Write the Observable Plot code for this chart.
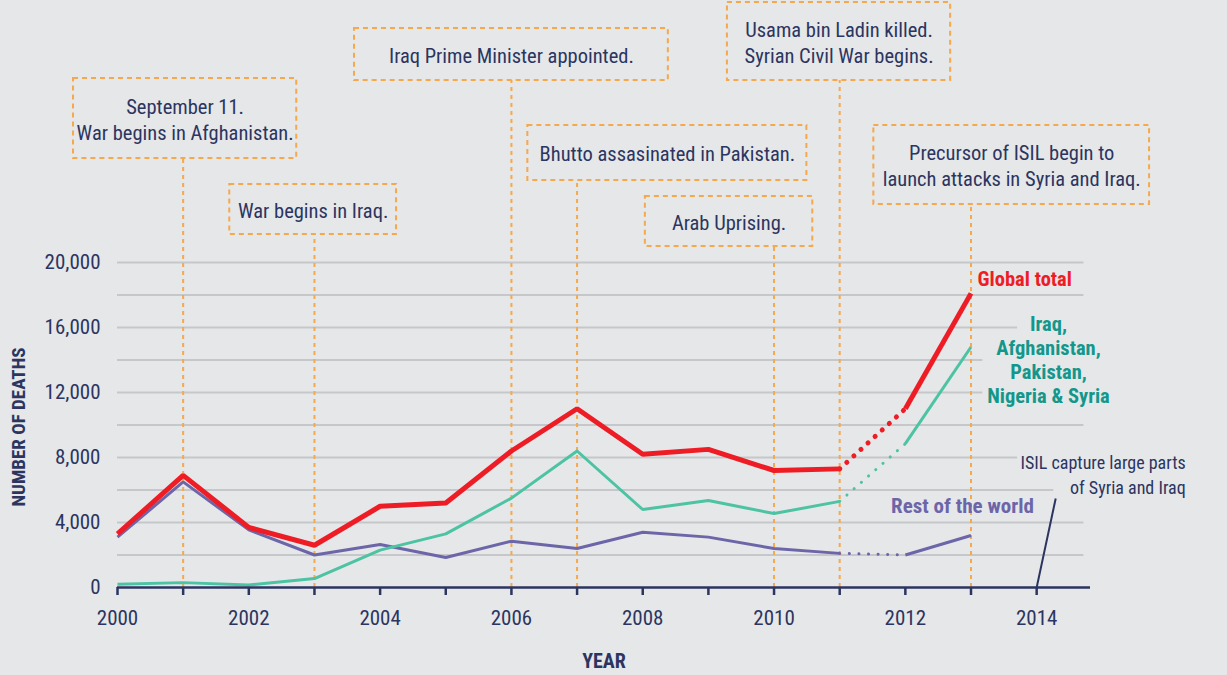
<!DOCTYPE html>
<html>
<head>
<meta charset="utf-8">
<script src="https://cdn.jsdelivr.net/npm/d3@7"></script>
<script src="https://cdn.jsdelivr.net/npm/@observablehq/plot@0.6"></script>
<style>
  html, body { margin: 0; padding: 0; background: #e6e7e9; }
  #chart svg { display: block; }
</style>
</head>
<body>
<div id="chart"></div>
<script>
// ---------- data ----------
const years = [2000, 2001, 2002, 2003, 2004, 2005, 2006, 2007, 2008, 2009, 2010, 2011, 2012, 2013];
const globalTotal = [3300, 6900, 3700, 2600, 5000, 5200, 8400, 11000, 8200, 8500, 7200, 7300, 11000, 18100];
const fiveCountries = [200, 300, 150, 550, 2300, 3300, 5500, 8400, 4800, 5350, 4550, 5300, 8850, 14800];
const restOfWorld = [3100, 6500, 3550, 2000, 2650, 1850, 2850, 2400, 3400, 3100, 2400, 2100, 2000, 3200];
const seriesNames = ["Global total", "Iraq, Afghanistan, Pakistan, Nigeria & Syria", "Rest of the world"];
const tickYears = [2000, 2001, 2002, 2003, 2004, 2005, 2006, 2007, 2008, 2009, 2010, 2011, 2012, 2013, 2014];
const yTicks = [0, 4000, 8000, 12000, 16000, 20000];
const gridValues = [2000, 4000, 6000, 8000, 10000, 12000, 14000, 16000, 18000, 20000];
const eventYears = [2001, 2003, 2006, 2007, 2010, 2011, 2013];
const eventTexts = [
  "September 11.\nWar begins in Afghanistan.",
  "War begins in Iraq.",
  "Iraq Prime Minister appointed.",
  "Bhutto assasinated in Pakistan.",
  "Arab Uprising.",
  "Usama bin Ladin killed.\nSyrian Civil War begins.",
  "Precursor of ISIL begin to\nlaunch attacks in Syria and Iraq."
];
const isilYear = 2014;
const isilText = "ISIL capture large parts\nof Syria and Iraq";

// ---------- styles ----------
const BG = "#e6e7e9";
const NAVY = "#2b3560";
const RED = "#ee1d25";
const TEAL = "#4cc3a2";
const TEAL_TEXT = "#13978b";
const PURPLE = "#6c66a9";
const ORANGE = "#f5a84c";
const GRID = "#c6c7ca";
const FONT = "'Liberation Sans Narrow','Roboto Condensed','DejaVu Sans Condensed','Liberation Sans',sans-serif";

// ---------- build tables ----------
const seriesValues = [globalTotal, fiveCountries, restOfWorld];
const rows = [];
seriesNames.forEach((name, s) => {
  years.forEach((year, i) => {
    const v = seriesValues[s][i];
    if (year <= 2011) rows.push({series: name, seg: "a", year, v});
    if (year >= 2012) rows.push({series: name, seg: "b", year, v});
    if (year === 2011 || year === 2012) rows.push({series: name, seg: "dot", year, v});
  });
});
const colorOf = {[seriesNames[0]]: RED, [seriesNames[1]]: TEAL, [seriesNames[2]]: PURPLE};
const widthOf = {[seriesNames[0]]: 5, [seriesNames[1]]: 3, [seriesNames[2]]: 3};

// annotation box layout (x in years, y in deaths units above the plot)
const boxLayout = [
  [1999.33, 2002.73, 31320, 26400],
  [2001.71, 2004.25, 24800, 21720],
  [2003.61, 2008.39, 34400, 31200],
  [2006.25, 2010.50, 28430, 25050],
  [2008.04, 2010.59, 24060, 20990],
  [2009.29, 2012.69, 36000, 31200],
  [2011.52, 2015.72, 28430, 23570]
];
const events = eventYears.map((year, i) => ({
  year, text: eventTexts[i],
  x1: boxLayout[i][0], x2: boxLayout[i][1], top: boxLayout[i][2], bottom: boxLayout[i][3]
}));

function seriesLines(name) {
  const c = colorOf[name], w = widthOf[name];
  return [
    Plot.line(rows.filter(d => d.series === name && d.seg !== "dot"), {
      x: "year", y: "v", z: "seg", stroke: c, strokeWidth: w, strokeLinejoin: "miter", strokeLinecap: "butt"
    }),
    Plot.line(rows.filter(d => d.series === name && d.seg === "dot"), {
      x: "year", y: "v", stroke: c, strokeWidth: w, strokeLinecap: "round",
      strokeDasharray: "0.1 9.5"
    })
  ];
}

const chart = Plot.plot({
  width: 1227,
  height: 675,
  marginLeft: 117,
  marginRight: 137,
  marginTop: 262,
  marginBottom: 88,
  style: {background: BG, fontFamily: FONT, color: NAVY, overflow: "visible"},
  x: {domain: [2000, 2014.82]},
  y: {domain: [0, 20000]},
  marks: [
    // gridlines
    Plot.ruleY(gridValues, {y: d => d, x1: 2000, x2: 2014.72, stroke: GRID, strokeWidth: 2}),
    // label backgrounds cutting the grid
    Plot.rect([
      {x1: 2013.71, x2: 2015.6, y1: 15508, y2: 16923},
      {x1: 2013.18, x2: 2015.6, y1: 11077, y2: 15508},
      {x1: 2013.71, x2: 2016.6, y1: 6892, y2: 8492},
      {x1: 2014.26, x2: 2016.6, y1: 5354, y2: 6892}
    ], {x1: "x1", x2: "x2", y1: "y1", y2: "y2", fill: BG}),
    // y axis
    Plot.axisY(yTicks, {
      tickSize: 0, tickPadding: 17, label: null,
      tickFormat: d3.format(","), fontSize: 21, fill: NAVY
    }),
    Plot.text(["NUMBER OF DEATHS"], {
      frameAnchor: "left", textAnchor: "middle", dx: -99, dy: 2, rotate: -90,
      fontSize: 19, fontWeight: "bold", fill: NAVY
    }),
    // annotation leader lines and boxes
    Plot.ruleX(events, {
      x: "year", y1: 0, y2: "bottom", stroke: ORANGE, strokeWidth: 2, strokeDasharray: "4 4"
    }),
    Plot.rect(events, {
      x1: "x1", x2: "x2", y1: "bottom", y2: "top",
      fill: "none", stroke: ORANGE, strokeWidth: 2, strokeDasharray: "5 4"
    }),
    Plot.text(events, {
      x: d => (d.x1 + d.x2) / 2, y: d => (d.top + d.bottom) / 2, text: "text",
      fontSize: 20.5, lineHeight: 1.27, fill: NAVY
    }),
    // ISIL note
    Plot.link([isilYear], {
      x1: d => d, y1: 0, x2: d => d + 0.29, y2: 5480, stroke: NAVY, strokeWidth: 2
    }),
    Plot.text([isilText], {
      x: 2016.27, y: 7000, textAnchor: "end", fontSize: 18, lineHeight: 1.39, fill: NAVY
    }),
    // data lines
    ...seriesLines(seriesNames[2]),
    ...seriesLines(seriesNames[1]),
    ...seriesLines(seriesNames[0]),
    // series labels
    Plot.text([seriesNames[0]], {
      x: 2013.1, y: 18954, textAnchor: "start", fontSize: 20.5, fontWeight: "bold", fill: RED
    }),
    Plot.text(["Iraq,\nAfghanistan,\nPakistan,\nNigeria & Syria"], {
      x: 2014.18, y: 14031, fontSize: 20.5, fontWeight: "bold", lineHeight: 1.17, fill: TEAL_TEXT
    }),
    Plot.text([seriesNames[2]], {
      x: 2012.87, y: 4985, fontSize: 21, fontWeight: "bold", fill: PURPLE
    }),
    // x axis
    Plot.ruleY([0], {stroke: NAVY, strokeWidth: 2.5}),
    Plot.axisX(tickYears, {
      tickSize: 8, tickPadding: 15, label: null, stroke: NAVY, strokeWidth: 2.5,
      tickFormat: d => d % 2 === 0 ? String(d) : "", fontSize: 21, fill: NAVY
    }),
    Plot.text(["YEAR"], {
      frameAnchor: "bottom", dy: 80, fontSize: 20, fontWeight: "bold", fill: NAVY
    })
  ]
});
document.getElementById("chart").appendChild(chart);
</script>
</body>
</html>
